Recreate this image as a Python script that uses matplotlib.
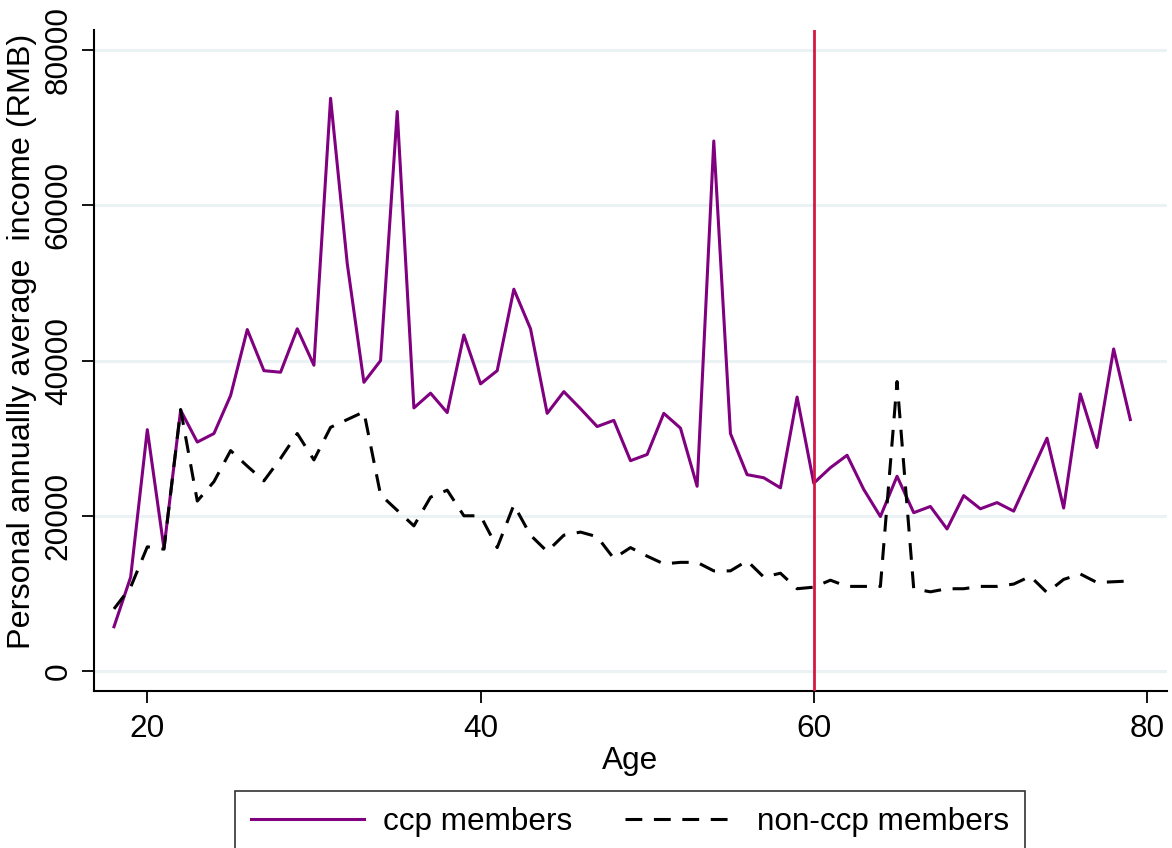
import numpy as np
import matplotlib
matplotlib.use("Agg")
import matplotlib.pyplot as plt

# ages 18..79
age = np.arange(18, 80)

# mean personal income, ccp members
ccp = [5700, 12100, 31100, 15800, 33600, 29500, 30600, 35500, 44000, 38700,
       38500, 44100, 39400, 73800, 52500, 37200, 40000, 72100, 33900, 35800,
       33300, 43300, 37000, 38700, 49200, 44100, 33200, 36000, 33800, 31500,
       32300, 27100, 27900, 33200, 31300, 23800, 68300, 30600, 25300, 24900,
       23600, 35300, 24200, 26200, 27800, 23400, 19900, 25100, 20400, 21200,
       18300, 22600, 20900, 21700, 20600, 25300, 30000, 21000, 35700, 28800,
       41500, 32400]

# mean personal income, non-ccp members
non_ccp = [8000, 10800, 16000, 15700, 33700, 21900, 24400, 28400, 26400, 24500,
           27400, 30600, 27200, 31400, 32400, 33400, 22700, 20700, 18700, 22400,
           23300, 20000, 20000, 15900, 21400, 17500, 15400, 17500, 17900, 17300,
           14500, 15900, 14800, 13800, 14000, 14000, 12900, 12900, 14200, 12100,
           12600, 10600, 10800, 11700, 10900, 10900, 10900, 37300, 10600, 10200,
           10600, 10600, 10900, 10900, 11200, 12200, 10100, 11800, 12500, 11400,
           11500, 11600]

cutoff_age = 60
x_ticks = [20, 40, 60, 80]
y_ticks = [0, 20000, 40000, 60000, 80000]

plt.rcParams['font.family'] = ['Liberation Sans', 'DejaVu Sans']
fs = 22.7

fig = plt.figure(figsize=(11.72, 8.48), dpi=100)
ax = fig.add_axes([0.0802, 0.1855, 0.9155, 0.7791])

for yv in y_ticks:
    ax.axhline(yv, color='#eaf2f3', lw=2.2, zorder=0)

ax.plot(age, ccp, color='#800080', lw=2.2, label='ccp members', zorder=3)
ax.plot(age, non_ccp, color='black', lw=2.2, dashes=(5.5, 3.8),
        label='non-ccp members', zorder=3)
ax.axvline(cutoff_age, color='#d41845', lw=2.0, zorder=4)

ax.set_xlim(16.8, 81.2)
ax.set_ylim(-2540, 82600)
ax.set_xticks(x_ticks)
ax.set_yticks(y_ticks)
ax.set_yticklabels([str(v) for v in y_ticks], rotation=90, va='center')

for side in ['top', 'right']:
    ax.spines[side].set_visible(False)
for side in ['left', 'bottom']:
    ax.spines[side].set_linewidth(1.5)
ax.tick_params(axis='both', labelsize=fs, length=8.5, width=1.3)
ax.tick_params(axis='x', pad=8)
ax.tick_params(axis='y', pad=6)

ax.set_xlabel('Age', fontsize=fs)
ax.xaxis.set_label_coords(0.5, -0.083)
ax.set_ylabel('Personal annuallly average  income (RMB)', fontsize=23.3)
ax.yaxis.set_label_coords(-0.053, 0.528)

leg = fig.legend(loc='upper center', bbox_to_anchor=(0.5375, 0.0672),
                 ncol=2, fontsize=fs, frameon=True, fancybox=False,
                 edgecolor='black', handlelength=3.6, handletextpad=0.6,
                 columnspacing=1.65, borderpad=0.5, borderaxespad=0)
leg.get_frame().set_linewidth(1.2)

fig.savefig('out.png', dpi=100)
